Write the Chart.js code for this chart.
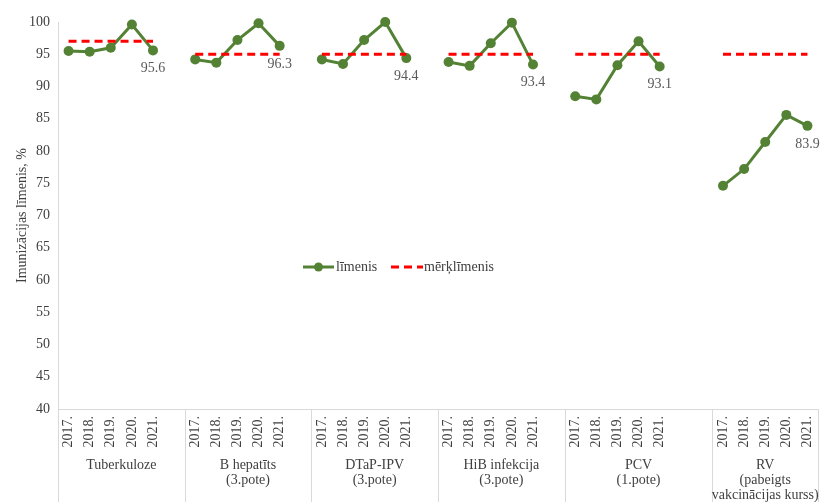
<!DOCTYPE html>
<html>
<head>
<meta charset="utf-8">
<script src="https://cdn.jsdelivr.net/npm/chart.js@4.4.1/dist/chart.umd.min.js"></script>
<style>
  html, body { margin: 0; padding: 0; background: #fff; }
  #wrap { width: 823px; height: 502px; position: relative; }
</style>
</head>
<body>
<div id="wrap"><canvas id="chart"></canvas></div>
<script>
// Data
const years = ['2017.', '2018.', '2019.', '2020.', '2021.'];
const vaccines = [
    ['Tuberkuloze'],
    ['B hepatīts', '(3.pote)'],
    ['DTaP-IPV', '(3.pote)'],
    ['HiB infekcija', '(3.pote)'],
    ['PCV', '(1.pote)'],
    ['RV', '(pabeigts', 'vakcinācijas kurss)']
];
const tuberkuloze = [95.5, 95.4, 96.0, 99.6, 95.6];
const bHepatits   = [94.2, 93.7, 97.2, 99.8, 96.3];
const dtapIpv     = [94.2, 93.5, 97.2, 100.0, 94.4];
const hib         = [93.8, 93.2, 96.7, 99.9, 93.4];
const pcv         = [88.5, 88.0, 93.3, 97.0, 93.1];
const rv          = [74.6, 77.2, 81.4, 85.6, 83.9];
const targets     = [97, 95, 95, 95, 95, 95];
// empty categories after each group
const gapsAfter   = [1, 1, 1, 1, 2, 0];

const FONT = "'Liberation Serif', 'Times New Roman', serif";
const GREEN = '#548235';
const RED = '#ff0000';

// Build the flat category axis
const series = [tuberkuloze, bHepatits, dtapIpv, hib, pcv, rv];
const labels = [];
const levelData = [];
const targetData = [];
const groupRanges = [];   // [firstIndex, lastIndexInclGaps]
const lastPoints = [];
series.forEach((vals, g) => {
    const start = labels.length;
    vals.forEach((v, i) => {
        labels.push(years[i]);
        levelData.push(v);
        targetData.push(targets[g]);
    });
    lastPoints.push({ index: labels.length - 1, value: vals[vals.length - 1] });
    for (let k = 0; k < gapsAfter[g]; k++) {
        labels.push('');
        levelData.push(null);
        targetData.push(null);
    }
    groupRanges.push([start, labels.length - 1]);
});

// Group labels, separators, data labels and legend
const decorPlugin = {
    id: 'decor',
    afterDraw(chart) {
        const { ctx, chartArea } = chart;
        const x = chart.scales.x;
        const y = chart.scales.y;
        const step = x.getPixelForValue(1) - x.getPixelForValue(0);
        ctx.save();

        // separators below the axis
        ctx.strokeStyle = '#d9d9d9';
        ctx.lineWidth = 1;
        const bottom = chart.height;
        const bounds = [x.getPixelForValue(0) - step / 2];
        groupRanges.forEach(r => bounds.push(x.getPixelForValue(r[1]) + step / 2));
        bounds.forEach(bx => {
            ctx.beginPath();
            ctx.moveTo(Math.round(bx) + 0.5, chartArea.bottom);
            ctx.lineTo(Math.round(bx) + 0.5, bottom);
            ctx.stroke();
        });

        // group names
        ctx.fillStyle = '#404040';
        ctx.font = '14px ' + FONT;
        ctx.textAlign = 'center';
        ctx.textBaseline = 'middle';
        groupRanges.forEach((r, g) => {
            const cx = (bounds[g] + bounds[g + 1]) / 2;
            vaccines[g].forEach((line, li) => {
                ctx.fillText(line, cx, chartArea.bottom + 56 + li * 15);
            });
        });

        // value labels on the 2021 points
        ctx.fillStyle = '#595959';
        ctx.font = '14px ' + FONT;
        lastPoints.forEach(p => {
            ctx.fillText(p.value.toFixed(1), x.getPixelForValue(p.index), y.getPixelForValue(p.value) + 18);
        });

        // legend
        const ly = 267;
        ctx.strokeStyle = GREEN;
        ctx.lineWidth = 3;
        ctx.beginPath();
        ctx.moveTo(303, ly);
        ctx.lineTo(334, ly);
        ctx.stroke();
        ctx.fillStyle = GREEN;
        ctx.beginPath();
        ctx.arc(318.5, ly, 4.5, 0, Math.PI * 2);
        ctx.fill();
        ctx.fillStyle = '#404040';
        ctx.textAlign = 'left';
        ctx.font = '14px ' + FONT;
        ctx.fillText('līmenis', 336, ly);

        ctx.strokeStyle = RED;
        ctx.setLineDash([8, 5]);
        ctx.beginPath();
        ctx.moveTo(391, ly);
        ctx.lineTo(423, ly);
        ctx.stroke();
        ctx.setLineDash([]);
        ctx.fillText('mērķlīmenis', 424, ly);

        ctx.restore();
    }
};

new Chart(document.getElementById('chart'), {
    type: 'line',
    data: {
        labels: labels,
        datasets: [
            {
                label: 'līmenis',
                data: levelData,
                borderColor: GREEN,
                backgroundColor: GREEN,
                borderWidth: 3,
                pointRadius: 5,
                pointBackgroundColor: GREEN,
                pointBorderWidth: 0,
                spanGaps: false,
                tension: 0,
                clip: false,
                order: 2
            },
            {
                label: 'mērķlīmenis',
                data: targetData,
                borderColor: RED,
                borderWidth: 3,
                borderDash: [8, 5],
                pointRadius: 0,
                spanGaps: false,
                tension: 0,
                clip: false,
                order: 1
            }
        ]
    },
    options: {
        responsive: true,
        maintainAspectRatio: false,
        animation: false,
        layout: {
            padding: { top: 22, right: 4, left: 0, bottom: 0 }
        },
        plugins: {
            legend: { display: false },
            tooltip: { enabled: false }
        },
        scales: {
            x: {
                offset: true,
                grid: { display: false, tickLength: 0 },
                border: { display: true, color: '#d9d9d9', width: 1 },
                ticks: {
                    autoSkip: false,
                    minRotation: 90,
                    maxRotation: 90,
                    padding: 7,
                    color: '#404040',
                    font: { family: FONT, size: 14 }
                },
                afterFit(scale) {
                    scale.height = 93;
                    scale.paddingLeft = 0;
                    scale.paddingRight = 0;
                }
            },
            y: {
                min: 40,
                max: 100,
                grid: { display: false, tickLength: 0 },
                border: { display: true, color: '#d9d9d9', width: 1 },
                ticks: {
                    stepSize: 5,
                    padding: 8,
                    color: '#404040',
                    font: { family: FONT, size: 14 }
                },
                title: {
                    display: true,
                    text: 'Imunizācijas līmenis, %',
                    color: '#404040',
                    font: { family: FONT, size: 14 },
                    padding: { top: 14, bottom: 0 }
                },
                afterFit(scale) { scale.width = 58; }
            }
        }
    },
    plugins: [decorPlugin]
});
</script>
</body>
</html>
